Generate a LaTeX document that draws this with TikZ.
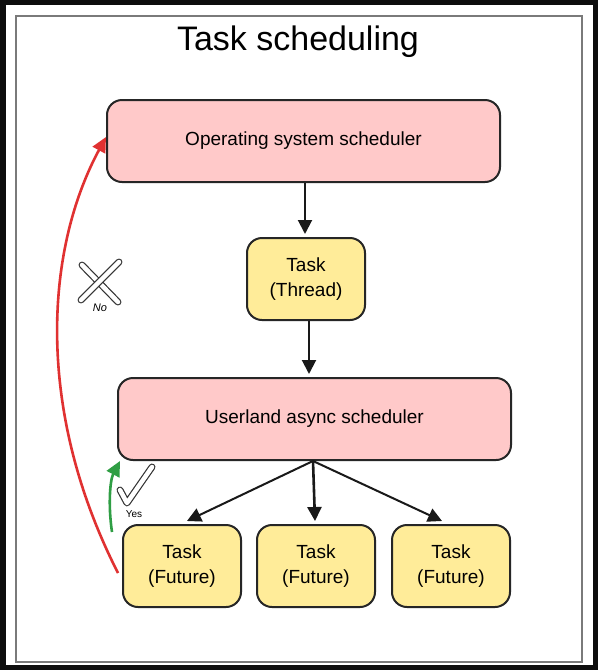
\documentclass[tikz,border=0pt]{standalone}
\usepackage{fontspec}
\setmainfont{Liberation Sans}
\usetikzlibrary{arrows.meta}
\definecolor{pinkfill}{HTML}{FFC9C9}
\definecolor{yellowfill}{HTML}{FFEC99}
\definecolor{redline}{HTML}{E03131}
\definecolor{greenline}{HTML}{2F9E44}
\definecolor{framegray}{HTML}{7A7A7A}
\tikzset{
  sched/.style={draw=black!85, line width=2pt, fill=pinkfill, rounded corners=15pt,
    minimum width=393pt, minimum height=82pt, font=\fontsize{19}{23}\selectfont, inner sep=0pt},
  taskbox/.style={draw=black!85, line width=2pt, fill=yellowfill, rounded corners=15pt,
    minimum width=118pt, minimum height=82pt, font=\fontsize{19}{25}\selectfont, align=center, inner sep=0pt},
  flow/.style={line width=2pt, draw=black!90, -{Triangle[width=14pt,length=14pt]}},
  outlinemark/.style={draw=black!80, double=white, double distance=4.5pt, line width=1.2pt, line cap=round, line join=round},
}
\begin{document}
\begin{tikzpicture}[x=1pt,y=-1pt]
\useasboundingbox (0,0) rectangle (598,670);
\fill[black!95] (0,0) rectangle (598,670);
\fill[white] (6,5) rectangle (593,665);
\draw[framegray, line width=2pt] (16,16) rectangle (582,662);

\node[font=\fontsize{34}{38}\selectfont] (title) at (298,42) {Task scheduling};

\node[sched] (os) at (303.5,141) {Operating system scheduler};
\node[taskbox] (thread) at (306,279) {Task\\(Thread)};
\node[sched] (user) at (314.5,419) {Userland async scheduler};
\node[taskbox] (f1) at (182,566) {Task\\(Future)};
\node[taskbox] (f2) at (316,566) {Task\\(Future)};
\node[taskbox] (f3) at (451,566) {Task\\(Future)};

\draw[flow, shorten >=3pt] (os.south -| 305,0) -- (thread.north -| 305,0);
\draw[flow, shorten >=3pt] (thread.south -| 309,0) -- (user.north -| 309,0);
\coordinate (usrc) at (313,461);
\coordinate (t1) at (187,521);
\coordinate (t2) at (315,521);
\coordinate (t3) at (442,521);
\draw[flow] (usrc) -- (t1);
\draw[flow, line width=2.6pt] (usrc) -- (t2);
\draw[flow] (usrc) -- (t3);

% red "No" path
\coordinate (rstart) at (118,573);
\coordinate (rend) at (106,137);
\draw[redline, line width=2.6pt, -{Triangle[width=14pt,length=15pt]}]
  (rstart) .. controls (35,410) and (45,250) .. (rend);
% green "Yes" path
\coordinate (gstart) at (112,532);
\coordinate (gend) at (120,461);
\draw[greenline, line width=2.6pt, -{Triangle[width=14pt,length=15pt]}]
  (gstart) .. controls (108,505) and (110,480) .. (gend);

% X mark
\coordinate (xa) at (82,265);
\coordinate (xb) at (118,302);
\coordinate (xc) at (119,262);
\coordinate (xd) at (81,300);
\draw[outlinemark] (xa) -- (xb);
\draw[outlinemark] (xc) -- (xd);
\node[font=\itshape\fontsize{11}{13}\selectfont] (nolabel) at (100,308) {No};

% check mark
\coordinate (ca) at (120,490);
\coordinate (cb) at (127,503);
\coordinate (cc) at (152,467);
\draw[outlinemark] (ca) -- (cb) -- (cc);
\node[font=\fontsize{10}{12}\selectfont] (yeslabel) at (134,514) {Yes};
\end{tikzpicture}
\end{document}
